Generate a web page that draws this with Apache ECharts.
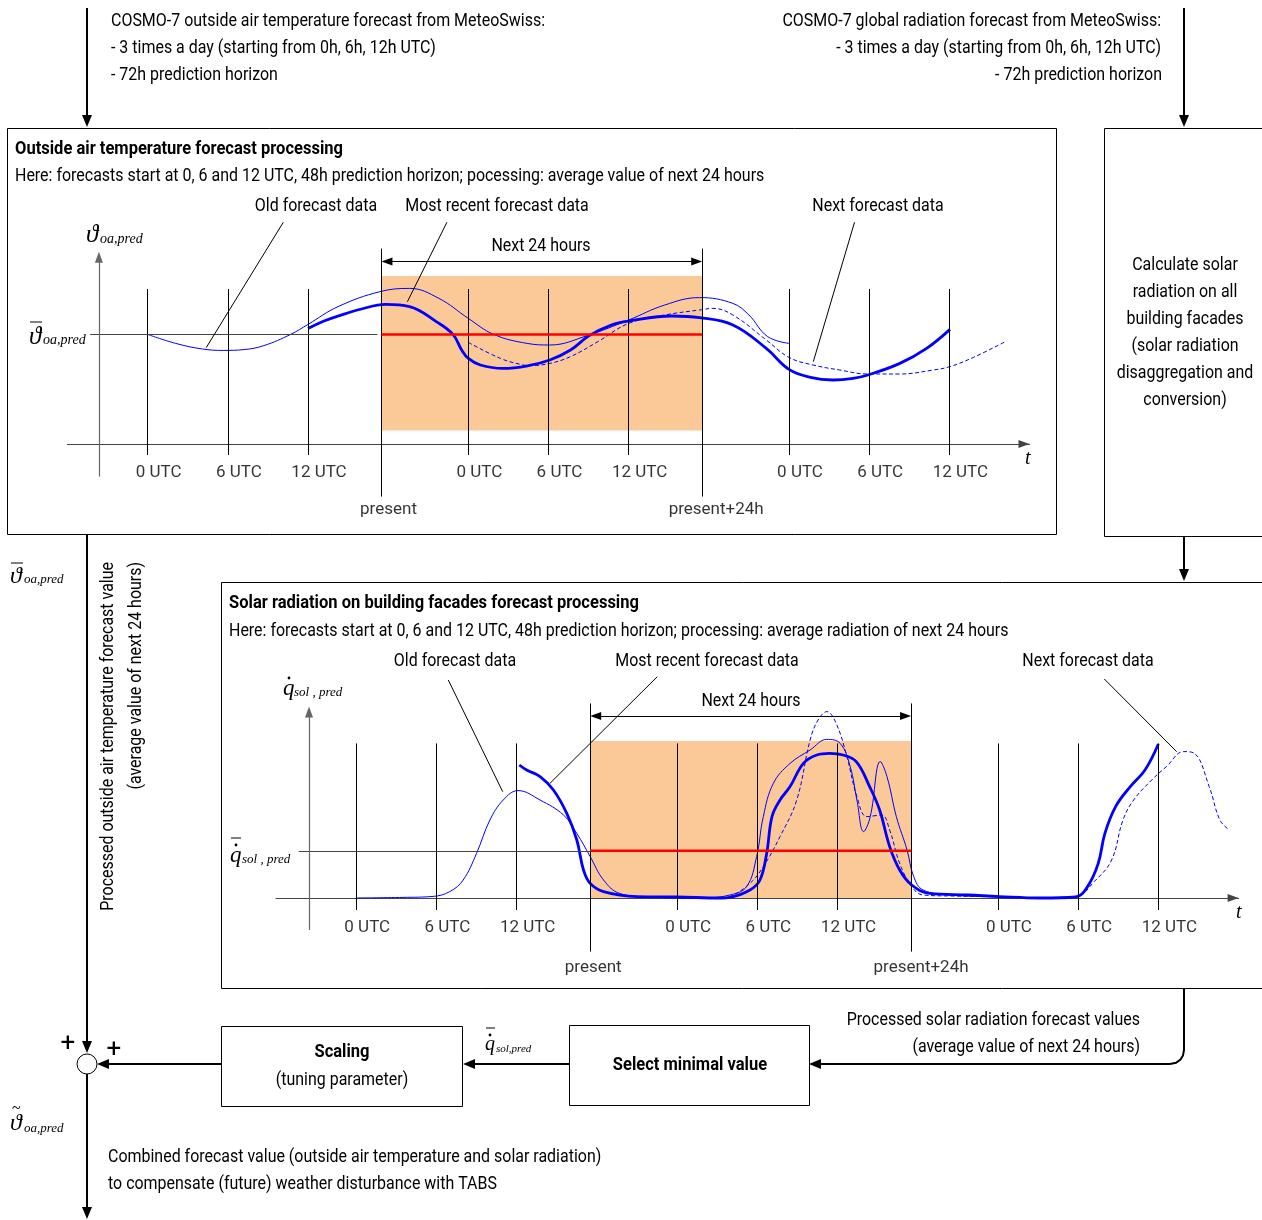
<!DOCTYPE html>
<html><head><meta charset="utf-8">
<script src="https://cdn.jsdelivr.net/npm/echarts@6/dist/echarts.min.js"></script>
<style>html,body{margin:0;padding:0;background:#fff}#c{width:1262px;height:1220px}</style>
</head><body><div id="c"></div><script>
// ================= DATA =================
// x: hours since first 0 UTC, y: relative value (0 = time axis)
const utcHours = [0, 6, 12, 24, 30, 36, 48, 54, 60];
const utcLabels = ['0 UTC','6 UTC','12 UTC','0 UTC','6 UTC','12 UTC','0 UTC','6 UTC','12 UTC'];
const presentHour = 17.5;
const presentPlus24Hour = 41.5;
const markerLabels = ['present', 'present+24h'];

const tempAverage = 54.8;
const tempOldForecast = [[0,54.8],[2.1,50.3],[4.1,47.5],[5.65,46.8],[7.2,47.2],[8.7,49.2],[10.7,54.8],[12.0,59.8],[14.25,68.7],[17.4,76.2],[19.6,77.8],[21.8,72.8],[24.0,62.8],[25.9,54.8],[28.4,50.3],[30.1,49.5],[32.9,54.2],[36.0,62],[38.7,69.5],[41.3,73.2],[43.8,70.3],[45.0,64.5],[46.4,53.7],[48.0,50.3]];
const tempRecentForecast = [[12.0,57.8],[13.2,61.5],[14.25,64],[16,67.5],[17.8,69.8],[19.6,68.7],[21.6,61.2],[22.85,54.8],[23.5,47],[24.0,42.8],[24.9,39.5],[26.6,37.8],[28.5,39.2],[30.1,42],[31.65,47],[33.05,54.2],[34.7,59.5],[36.0,61.5],[39.25,64],[41.3,63.2],[43.8,59.5],[46.3,47.8],[48.0,37.3],[49.6,33.3],[51.3,32],[52.8,32.8],[53.9,34.5],[56.3,40.3],[58.3,47.8],[60.05,57.3]];
const tempNextForecast = [[24.0,50.8],[26.4,42.8],[27.9,39.8],[28.6,39.2],[30.1,40.3],[31.65,43.7],[33.7,51.2],[36.0,60.3],[38.7,64.5],[41.3,67],[42.3,67.8],[43.8,64.5],[46.3,52],[48.0,43.3],[49.8,39.5],[51.8,37],[53.9,35],[56.3,35],[58.8,37],[60.05,38.7],[61.8,43.3],[64.2,51.2]];

const solarAverage = 23.6;
const solarOldForecast = [[0,0],[3.5,0.3],[5.75,0.8],[7.0,3.2],[8.0,9],[9.0,22.3],[10.0,39],[11.0,49],[12.1,53.7],[13.75,49],[15.5,41.5],[16.5,32.3],[17.5,20.7],[18.5,9],[19.7,2.3],[21.9,0.5],[25.7,0],[27.95,1.5],[29.2,5.7],[29.95,20.7],[30.45,40.7],[31.2,57.3],[32.45,67.3],[33.95,74],[35.2,79.3],[36.2,77.3],[36.95,65.7],[37.45,49],[37.95,33.2],[38.45,40.7],[39.2,68.2],[39.7,60.7],[40.4,40.7],[41.2,24],[41.7,10.7],[42.4,4],[44.5,1.5],[48.1,0.7]];
const solarRecentForecast = [[12.2,66.5],[12.75,64],[13.75,60.7],[14.75,54],[15.75,42.3],[16.5,29],[17.0,14],[17.5,7.3],[18.5,3.2],[21.0,0.7],[24.0,0.5],[27.3,0],[27.95,0.3],[29.45,4],[30.2,9],[30.7,22.3],[31.1,40.7],[31.7,49],[32.45,55.7],[33.45,67.3],[34.45,71.5],[35.4,72.3],[36.4,71.5],[37.4,68.2],[38.4,55.7],[39.15,44],[39.9,25.7],[40.65,14],[41.55,6.5],[42.9,2.3],[45.8,1.5],[48.1,0.7],[51.2,0],[53.8,0.5],[54.7,5.7],[55.5,17.3],[56.0,32.3],[56.8,45.7],[57.9,55.7],[59.0,64],[60.0,77]];
const solarNextForecast = [[24.0,0],[27.3,0],[27.95,0.7],[29.45,7.3],[30.45,15.7],[31.7,30.7],[32.95,49],[33.95,79],[34.55,89],[35.2,93.2],[35.9,87.3],[36.7,70.7],[37.45,50.7],[38.2,40.7],[39.3,41.5],[39.9,34],[40.65,17.3],[41.55,5.7],[42.4,1.5],[44.5,1],[48.1,0.7],[51.2,0],[53.8,0.5],[55.2,8.2],[56.5,19],[57.35,39],[58.15,49],[59.5,59],[60.6,65.7],[61.9,73.2],[62.7,72.3],[63.8,55.7],[64.6,39],[65.3,34]];

// ================= STYLE / LAYOUT =================
const FONT = "Roboto,'Noto Sans',sans-serif";
const SERIF = "'Liberation Serif','DejaVu Serif',serif";
const BLUE = '#0000ff';
const ORANGE = '#fbc997';

const mctx = document.createElement('canvas').getContext('2d');
function measure(s, font){ mctx.font = font; return mctx.measureText(s).width; }
const SX_N = 434 / measure('COSMO-7 outside air temperature forecast from MeteoSwiss:', '18px ' + FONT);
const SX_B = 328 / measure('Outside air temperature forecast processing', 'bold 18px ' + FONT);

const ARW = 0.41; // half arrow-head length in hours (keeps tips on the marker lines)
const panels = [
  {gi:0, old:tempOldForecast, recent:tempRecentForecast, next:tempNextForecast, avg:tempAverage,
   areaBottom:6.8, areaTop:84, utcBottom:-5.5, utcTop:77.5, presBottom:-26.3, presTop:97.7,
   avgStart:-4.3, avgEnd:17.2, yAxisHour:-3.65, yAxisBottom:-16.3, yAxisTop:93.4, arrowV:91.2,
   utcLabelV:-14.5, presLabelV:-33, presOffsets:[7,14]},
  {gi:1, old:solarOldForecast, recent:solarRecentForecast, next:solarNextForecast, avg:solarAverage,
   areaBottom:0, areaTop:78.5, utcBottom:-6, utcTop:77.3, presBottom:-26.8, presTop:97.3,
   avgStart:-4.3, avgEnd:17.5, yAxisHour:-3.53, yAxisBottom:-16, yAxisTop:93, arrowV:91,
   utcLabelV:-15, presLabelV:-34.75, presOffsets:[3,10]}
];

function panelSeries(p) {
  const base = {xAxisIndex:p.gi, yAxisIndex:p.gi, silent:true, animation:false};
  const seg = (x1,y1,x2,y2,extra) => [Object.assign({coord:[x1,y1]}, extra||{}), Object.assign({coord:[x2,y2]}, extra||{})];
  const ml = [];
  utcHours.forEach(h => ml.push(seg(h,p.utcBottom,h,p.utcTop)));
  [presentHour, presentPlus24Hour].forEach(h => ml.push(seg(h,p.presBottom,h,p.presTop)));
  ml.push(seg(p.avgStart,p.avg,p.avgEnd,p.avg,{lineStyle:{color:'#444',width:1}}));
  const gray = {color:'#666',width:1.2,type:'solid'};
  ml.push([{coord:[p.yAxisHour,p.yAxisBottom],symbol:'none',lineStyle:gray},{coord:[p.yAxisHour,p.yAxisTop],symbol:'triangle',symbolSize:[8,11],lineStyle:gray}]);
  ml.push([{coord:[presentHour+ARW,p.arrowV],symbol:'triangle',symbolSize:[8,11]},{coord:[presentPlus24Hour-ARW,p.arrowV],symbol:'triangle',symbolSize:[8,11]}]);
  const labelData = utcHours.map((h,i)=>({value:[h,p.utcLabelV], label:{formatter:utcLabels[i], offset:[11,0]}}));
  [presentHour, presentPlus24Hour].forEach((h,i)=>labelData.push({value:[h,p.presLabelV], label:{formatter:markerLabels[i], offset:[p.presOffsets[i],0]}}));
  return [
    Object.assign({}, base, {type:'line', data:[], z:1,
      markArea:{silent:true, itemStyle:{color:ORANGE}, label:{show:false},
        data:[[{coord:[presentHour,p.areaBottom]},{coord:[presentPlus24Hour,p.areaTop]}]]}}),
    Object.assign({}, base, {type:'line', data:[], z:2,
      markLine:{silent:true, symbol:['none','none'], label:{show:false}, animation:false,
        lineStyle:{color:'#000', width:1, type:'solid'}, emphasis:{disabled:true}, data:ml}}),
    Object.assign({}, base, {type:'line', data:p.old, z:3, smooth:0.4, showSymbol:false, symbol:'none',
      lineStyle:{color:BLUE, width:1}}),
    Object.assign({}, base, {type:'line', data:p.next, z:3, smooth:0.4, showSymbol:false, symbol:'none',
      lineStyle:{color:BLUE, width:1, type:[4,2.5]}}),
    Object.assign({}, base, {type:'line', data:p.recent, z:4, smooth:0.4, showSymbol:false, symbol:'none',
      lineStyle:{color:BLUE, width:2.8}}),
    Object.assign({}, base, {type:'line', data:[[presentHour,p.avg],[presentPlus24Hour,p.avg]], z:5, symbol:'none',
      lineStyle:{color:'#ff0000', width:2.5}}),
    Object.assign({}, base, {type:'scatter', data:labelData, z:6, symbolSize:0, clip:false,
      label:{show:true, position:'inside', color:'#000', fontFamily:FONT, fontSize:17, align:'center', verticalAlign:'middle'}})
  ];
}

// ================= GRAPHIC ANNOTATIONS =================
const G = [];
function T(x, y, s, size, o) {
  o = o || {};
  const al = o.align || 'left';
  const sx = o.noScale ? 1 : (o.bold ? SX_B : SX_N);
  G.push({type:'text', x:x, y:y, rotation:o.rot||0, scaleX:sx, silent:true, z:100,
    style:{text:s, font:(o.italic?'italic ':'')+(o.bold?'bold ':'')+size+'px '+(o.family||FONT), fill:'#000',
      textAlign:al, align:al, textVerticalAlign:'middle', verticalAlign:'middle'}});
}
function L(x1,y1,x2,y2,w,c){ G.push({type:'line', silent:true, z:100, shape:{x1:x1,y1:y1,x2:x2,y2:y2}, style:{stroke:c||'#000', lineWidth:w||1}}); }
function R(x,y,w,h){ G.push({type:'rect', silent:true, z:100, shape:{x:x,y:y,width:w,height:h}, style:{fill:'rgba(0,0,0,0)', stroke:'#000', lineWidth:1}}); }
function head(tx,ty,dir,len,hw){
  len = len||12; hw = hw||5; let p;
  if (dir==='down') p=[[tx,ty],[tx-hw,ty-len],[tx+hw,ty-len]];
  if (dir==='left') p=[[tx,ty],[tx+len,ty-hw],[tx+len,ty+hw]];
  G.push({type:'polygon', silent:true, z:101, shape:{points:p}, style:{fill:'#000'}});
}
function arrowDown(x,y1,y2,w){ L(x,y1,x,y2-10,w||2); head(x,y2,'down'); }
function arrowLeft(x1,x2,y,w){ L(x1,y,x2+10,y,w||2); head(x2,y,'left'); }
function math(x,y,main,sub,o){
  o = o||{};
  T(x,y,main,o.ms||22,{italic:true,family:SERIF,noScale:true});
  T(x+(o.mw||13),y+(o.dy||5),sub,o.ss||13,{italic:true,family:SERIF,noScale:true});
  if (o.bar) L(x+o.bar[0],y+o.bar[2],x+o.bar[1],y+o.bar[2],1);
  if (o.dot) G.push({type:'circle', silent:true, z:101, shape:{cx:x+o.dot[0],cy:y+o.dot[1],r:1.4}, style:{fill:'#000'}});
  if (o.tilde) T(x+o.tilde[0],y+o.tilde[1],'~',16,{family:SERIF,noScale:true});
}

// top input texts
T(111,21,'COSMO-7 outside air temperature forecast from MeteoSwiss:',18);
T(111,48,'- 3 times a day (starting from 0h, 6h, 12h UTC)',18);
T(111,75,'- 72h prediction horizon',18);
T(1161,21,'COSMO-7 global radiation forecast from MeteoSwiss:',18,{align:'right'});
T(1161,48,'- 3 times a day (starting from 0h, 6h, 12h UTC)',18,{align:'right'});
T(1162,75,'- 72h prediction horizon',18,{align:'right'});
arrowDown(87,8,127);
arrowDown(1184,8,127);

// top panel
R(7.5,128.5,1049,406);
T(15,149,'Outside air temperature forecast processing',18,{bold:true});
T(15,176,'Here: forecasts start at 0, 6 and 12 UTC, 48h prediction horizon; pocessing: average value of next 24 hours',18);
T(316,206,'Old forecast data',18,{align:'center'});
T(497,206,'Most recent forecast data',18,{align:'center'});
T(878,206,'Next forecast data',18,{align:'center'});
T(541,246,'Next 24 hours',18,{align:'center'});
L(283.3,222.3,206.2,347.7); L(446.9,222.3,407.4,301.7); L(854.5,222.3,813.3,361.7);
T(1025,459,'t',20,{italic:true,family:SERIF,noScale:true});
math(86,235,'\u03D1','oa,pred',{ms:25,ss:14,mw:14,dy:4});
math(29,337,'\u03D1','oa,pred',{ms:25,ss:14,mw:14,dy:3,bar:[1,13,-15]});

// right box
R(1104.5,128.5,200,408);
['Calculate solar','radiation on all','building facades','(solar radiation','disaggregation and','conversion)']
  .forEach((s,i)=>T(1185,265+27*i,s,18,{align:'center'}));
arrowDown(1184,537,581);

// left trunk
arrowDown(87,534,1053);
math(10,577,'\u03D1','oa,pred',{ms:24,ss:13,mw:14,dy:3,bar:[1,13,-14]});
T(108,562,'Processed outside air temperature forecast value',18,{rot:Math.PI/2,align:'right'});
T(136,562,'(average value of next 24 hours)',18,{rot:Math.PI/2,align:'right'});

// bottom panel
R(221.5,582.5,1100,406);
T(229,603,'Solar radiation on building facades forecast processing',18,{bold:true});
T(229,631,'Here: forecasts start at 0, 6 and 12 UTC, 48h prediction horizon; processing: average radiation of next 24 hours',18);
T(455,661,'Old forecast data',18,{align:'center'});
T(707,661,'Most recent forecast data',18,{align:'center'});
T(1088,661,'Next forecast data',18,{align:'center'});
T(751,701,'Next 24 hours',18,{align:'center'});
L(448.3,680,502.7,791.7); L(657.3,676.7,550,783.3); L(1104.3,679,1176.7,751.7);
T(1236,913,'t',20,{italic:true,family:SERIF,noScale:true});
math(283,689,'q','sol , pred',{ms:23,mw:11,dy:4,dot:[6,-11]});
math(230,856,'q','sol , pred',{ms:23,mw:12,dy:4,dot:[6,-11],bar:[1,11,-18]});

// connector from bottom panel to "Select minimal value"
G.push({type:'polyline', silent:true, z:100,
  shape:{points:[[1184,989],[1184,1050],[1183,1055.5],[1180.5,1059.5],[1176,1062.8],[1170,1064],[819,1064]]},
  style:{stroke:'#000', lineWidth:2, fill:null}});
head(809,1064,'left');
T(1140,1020,'Processed solar radiation forecast values',18,{align:'right'});
T(1140,1047,'(average value of next 24 hours)',18,{align:'right'});

// blocks
R(569.5,1025.5,240,80);
T(690,1065,'Select minimal value',18,{bold:true,align:'center'});
arrowLeft(569,463,1064);
math(485,1045,'q','sol,pred',{ms:20,ss:11,mw:11,dy:4,dot:[5,-10],bar:[1,10,-17]});
R(221.5,1026.5,241,80);
T(342,1052,'Scaling',18,{bold:true,align:'center'});
T(342,1080,'(tuning parameter)',18,{align:'center'});
arrowLeft(221,97,1064);
G.push({type:'circle', silent:true, z:101, shape:{cx:87,cy:1064,r:10}, style:{fill:'#fff', stroke:'#000', lineWidth:1}});
T(68,1044,'+',26,{align:'center',noScale:true});
T(114,1050,'+',26,{align:'center',noScale:true});
arrowDown(87,1074,1219);
math(10,1124,'\u03D1','oa,pred',{ms:24,ss:13,mw:14,dy:5,tilde:[2,-15]});
T(108,1157,'Combined forecast value (outside air temperature and solar radiation)',18);
T(108,1184,'to compensate (future) weather disturbance with TABS',18);

// ================= CHART =================
const axisX = gi => ({gridIndex:gi, type:'value', min:-6, max:66, interval:6,
  axisLine:{show:true, onZero:true, symbol:['none','triangle'], symbolSize:[8,11], symbolOffset:[0,-5.5], lineStyle:{color:'#444', width:1}},
  axisTick:{show:false}, axisLabel:{show:false}, splitLine:{show:false}});
const axisY = gi => ({gridIndex:gi, type:'value', min:-40, max:100, interval:20, show:false,
  axisLine:{show:false}, axisTick:{show:false}, axisLabel:{show:false}, splitLine:{show:false}});

const chart = echarts.init(document.getElementById('c'), null, {renderer:'canvas'});
chart.setOption({
  animation:false,
  backgroundColor:'#fff',
  grid:[
    {left:67.5, top:244, width:962, height:280, outerBoundsMode:'none', containLabel:false},
    {left:276, top:698, width:962.6, height:280, outerBoundsMode:'none', containLabel:false}
  ],
  xAxis:[axisX(0), axisX(1)],
  yAxis:[axisY(0), axisY(1)],
  series:[].concat(panelSeries(panels[0]), panelSeries(panels[1])),
  graphic:{elements:G}
});
</script></body></html>
